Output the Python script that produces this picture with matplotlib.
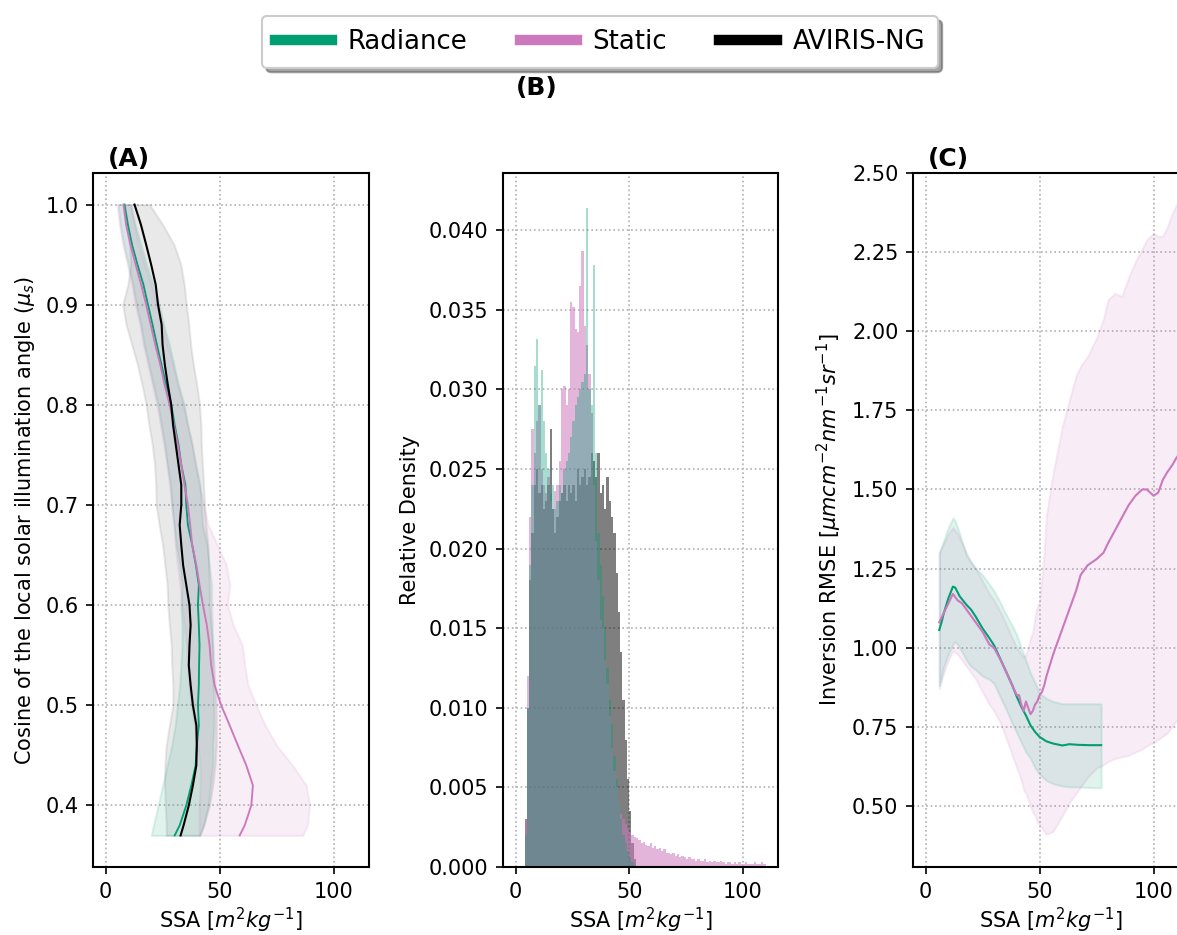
import matplotlib
matplotlib.use("Agg")
import matplotlib.pyplot as plt
from matplotlib.lines import Line2D
import numpy as np

RADIANCE_COLOR = "#029e73"
STATIC_COLOR = "#cc78bc"
AVIRIS_COLOR = "black"
SSA_LABEL = r"SSA [$m^2kg^{-1}$]"

# (A) SSA statistics binned by cosine of the local solar illumination angle
MU_S = [1.00, 0.98, 0.96, 0.94, 0.92, 0.90, 0.88, 0.86, 0.84, 0.82,
        0.80, 0.78, 0.76, 0.74, 0.72, 0.70, 0.68, 0.66, 0.64, 0.62,
        0.60, 0.58, 0.56, 0.54, 0.52, 0.50, 0.48, 0.46, 0.44, 0.42,
        0.40, 0.38, 0.37]
AVIRIS_MEAN = [12.7, 15.5, 17.8, 20.0, 22.0, 23.0, 24.6, 25.0, 26.0, 27.3,
               28.8, 29.6, 30.8, 32.0, 33.2, 33.2, 32.5, 33.2, 34.0, 35.4,
               36.8, 37.3, 36.8, 36.5, 37.3, 38.3, 39.8, 40.0, 39.8, 38.3,
               36.5, 34.2, 32.9]
AVIRIS_LO = [7.6, 9.0, 10.5, 11.0, 9.8, 7.5, 9.0, 11.5, 14.0, 16.0,
             17.8, 19.0, 20.5, 21.5, 22.0, 22.2, 23.5, 25.0, 26.0, 27.0,
             27.3, 28.0, 28.8, 29.0, 29.5, 29.5, 28.0, 26.6, 26.0, 25.9,
             26.2, 26.6, 26.6]
AVIRIS_HI = [19.3, 25.0, 30.0, 33.0, 34.5, 35.4, 36.5, 37.3, 38.5, 40.0,
             41.2, 41.8, 42.0, 42.5, 43.0, 43.4, 44.0, 44.9, 45.2, 45.5,
             45.6, 46.2, 47.0, 47.5, 48.0, 48.5, 48.5, 48.5, 48.0, 47.0,
             45.6, 43.0, 41.2]
RAD_MEAN_A = [8.3, 9.8, 11.6, 14.0, 16.6, 18.6, 20.6, 22.5, 24.5, 26.6,
              28.8, 30.3, 32.0, 33.2, 35.0, 35.4, 36.1, 38.0, 39.6, 40.9,
              40.5, 40.9, 41.2, 41.0, 40.9, 40.5, 40.9, 40.0, 39.5, 37.6,
              35.4, 32.5, 30.3]
RAD_LO_A = [5.5, 6.5, 8.0, 10.0, 12.0, 13.5, 15.5, 17.0, 19.0, 21.0,
            23.0, 24.5, 26.0, 27.0, 28.5, 29.0, 30.0, 31.0, 32.5, 33.5,
            33.0, 33.5, 33.5, 33.0, 32.5, 31.5, 30.5, 29.0, 27.0, 25.0,
            23.0, 21.0, 20.0]
RAD_HI_A = [11.0, 13.0, 15.5, 18.0, 21.0, 23.5, 25.5, 28.0, 30.0, 32.0,
            34.5, 36.0, 38.0, 39.5, 41.5, 42.0, 42.5, 44.5, 45.5, 46.5,
            46.5, 46.8, 47.0, 47.0, 47.2, 47.5, 47.5, 47.0, 47.0, 46.0,
            45.0, 43.0, 41.5]
STA_MEAN_A = [7.9, 9.0, 10.9, 13.2, 15.6, 17.8, 19.8, 21.8, 24.0, 25.9,
              28.1, 30.0, 31.7, 33.2, 34.6, 36.1, 37.1, 38.0, 39.8, 41.2,
              42.7, 44.4, 45.6, 46.3, 47.8, 50.7, 54.4, 58.0, 61.7, 64.6,
              63.9, 61.0, 58.8]
STA_LO_A = [5.0, 6.0, 7.5, 9.5, 11.5, 13.0, 15.0, 16.5, 18.5, 20.5,
            22.5, 24.0, 25.5, 27.0, 28.0, 29.0, 30.0, 30.5, 31.5, 32.5,
            33.5, 34.5, 35.5, 36.0, 36.5, 37.5, 39.0, 40.5, 41.5, 41.5,
            41.0, 41.0, 41.0]
STA_HI_A = [11.0, 12.5, 14.5, 17.0, 20.0, 22.5, 25.0, 27.0, 29.5, 31.5,
            34.0, 36.0, 38.0, 39.5, 41.0, 43.0, 45.0, 49.0, 53.0, 54.5,
            53.5, 56.0, 60.0, 61.0, 62.5, 66.0, 70.0, 75.0, 82.0, 88.0,
            89.5, 88.5, 86.5]

# (B) relative density of SSA, 1 m2/kg bins starting at 3
HIST_START = 3
RAD_DENSITY = [0.000, 0.002, 0.010, 0.019, 0.024, 0.0315, 0.0332, 0.029, 0.0312, 0.028,
               0.026, 0.025, 0.0235, 0.024, 0.0225, 0.023, 0.024, 0.0235, 0.025, 0.0255,
               0.026, 0.027, 0.028, 0.029, 0.0295, 0.030, 0.0305, 0.031, 0.0414, 0.030,
               0.029, 0.0378, 0.026, 0.021, 0.019, 0.017, 0.015, 0.0125, 0.0105, 0.009,
               0.007, 0.0055, 0.004, 0.003, 0.002, 0.0015, 0.001, 0.0006, 0.0003, 0.0001]
AVIRIS_DENSITY = [0.000, 0.003, 0.010, 0.018, 0.021, 0.024, 0.025, 0.0235, 0.024, 0.0225,
                  0.023, 0.024, 0.0275, 0.0225, 0.021, 0.022, 0.023, 0.0235, 0.024, 0.023,
                  0.024, 0.0235, 0.024, 0.023, 0.025, 0.024, 0.0245, 0.025, 0.024, 0.0245,
                  0.026, 0.0255, 0.0245, 0.026, 0.0235, 0.024, 0.0225, 0.0245, 0.023, 0.022,
                  0.021, 0.0185, 0.016, 0.0135, 0.0105, 0.008, 0.0055, 0.0035, 0.0015, 0.0005]
STA_DENSITY = [0.000, 0.003, 0.012, 0.022, 0.0275, 0.026, 0.028, 0.029, 0.025, 0.024,
               0.0235, 0.0245, 0.023, 0.0225, 0.0236, 0.024, 0.0255, 0.030, 0.0302, 0.029,
               0.030, 0.0355, 0.0352, 0.0338, 0.0336, 0.0365, 0.0387, 0.034, 0.0328, 0.031,
               0.0285, 0.024, 0.0205, 0.018, 0.0155, 0.015, 0.013, 0.0115, 0.0095, 0.0075,
               0.006, 0.005, 0.004, 0.0033, 0.003, 0.0027, 0.0024, 0.0022, 0.002, 0.0019,
               0.0018, 0.0017, 0.0015, 0.0016, 0.0014, 0.0013, 0.0015, 0.0012, 0.0013, 0.0011,
               0.0012, 0.0010, 0.0011, 0.0009, 0.0009, 0.0008, 0.0009, 0.0007, 0.0008, 0.0006,
               0.0007, 0.0006, 0.0005, 0.0006, 0.0005, 0.0005, 0.0004, 0.0005, 0.0004, 0.0004,
               0.0005, 0.0003, 0.0004, 0.0003, 0.0004, 0.0003, 0.0003, 0.0004, 0.0003, 0.0002,
               0.0003, 0.0003, 0.0002, 0.0003, 0.0002, 0.0003, 0.0002, 0.0002, 0.0003, 0.0002,
               0.0002, 0.0002, 0.0003, 0.0002, 0.0002, 0.0003, 0.0002]

# (C) inversion RMSE as a function of SSA
RAD_SSA_C = [6, 7, 8, 10, 12, 13, 15, 18, 20, 22, 25, 28, 30, 33, 35, 38, 40, 42, 44,
             46, 48, 50, 53, 56, 60, 63, 67, 72, 77]
RAD_RMSE = [1.056, 1.08, 1.109, 1.156, 1.193, 1.19, 1.162, 1.135, 1.12, 1.098, 1.061,
            1.03, 1.008, 0.961, 0.929, 0.882, 0.845, 0.813, 0.786, 0.755, 0.734, 0.718,
            0.704, 0.697, 0.691, 0.695, 0.693, 0.692, 0.692]
RAD_RMSE_HI = [1.30, 1.32, 1.34, 1.38, 1.41, 1.40, 1.36, 1.29, 1.27, 1.25, 1.23, 1.20,
               1.18, 1.14, 1.11, 1.07, 1.04, 1.00, 0.96, 0.92, 0.89, 0.855, 0.84, 0.83,
               0.823, 0.823, 0.823, 0.823, 0.823]
RAD_RMSE_LO = [0.88, 0.91, 0.94, 0.98, 1.01, 1.02, 1.00, 0.96, 0.94, 0.93, 0.91, 0.90,
               0.887, 0.84, 0.81, 0.76, 0.73, 0.70, 0.67, 0.65, 0.62, 0.60, 0.58, 0.57,
               0.563, 0.56, 0.56, 0.558, 0.557]
STA_SSA_C = [6, 8, 10, 12, 14, 16, 18, 20, 22, 25, 28, 30, 33, 35, 38, 40, 41, 42, 43,
             44, 45, 46, 47, 48, 49, 50, 51, 52, 53, 56, 60, 63, 66, 68, 71, 75, 78, 80,
             83, 86, 89, 92, 95, 97, 100, 102, 104, 106, 108, 110, 112]
STA_RMSE = [1.08, 1.11, 1.14, 1.17, 1.15, 1.14, 1.12, 1.10, 1.08, 1.05,
            1.01, 1.00, 0.96, 0.93, 0.88, 0.85, 0.85, 0.82, 0.80, 0.83,
            0.81, 0.79, 0.80, 0.82, 0.83, 0.85, 0.86, 0.88, 0.91, 0.98,
            1.06, 1.12, 1.18, 1.23, 1.26, 1.28, 1.30, 1.33, 1.37, 1.41,
            1.45, 1.48, 1.50, 1.50, 1.48, 1.49, 1.53, 1.555, 1.575, 1.60, 1.62]
STA_RMSE_HI = [1.30, 1.33, 1.36, 1.38, 1.36, 1.33, 1.30, 1.27, 1.25, 1.21,
               1.17, 1.15, 1.11, 1.08, 1.03, 1.00, 0.99, 0.98, 0.97, 0.98,
               1.00, 1.03, 1.05, 1.10, 1.13, 1.15, 1.22, 1.30, 1.42, 1.555,
               1.70, 1.78, 1.86, 1.89, 1.92, 1.98, 2.04, 2.10, 2.12, 2.11,
               2.17, 2.22, 2.26, 2.29, 2.31, 2.30, 2.30, 2.33, 2.37, 2.40, 2.42]
STA_RMSE_LO = [0.87, 0.92, 0.96, 0.99, 0.98, 0.96, 0.94, 0.92, 0.90, 0.86,
               0.82, 0.80, 0.76, 0.72, 0.66, 0.62, 0.60, 0.58, 0.55, 0.54,
               0.52, 0.50, 0.48, 0.47, 0.45, 0.44, 0.43, 0.42, 0.41, 0.42,
               0.47, 0.51, 0.54, 0.56, 0.59, 0.62, 0.63, 0.64, 0.65, 0.655,
               0.66, 0.67, 0.68, 0.69, 0.70, 0.71, 0.72, 0.73, 0.75, 0.77, 0.78]


def style_axis(ax):
    ax.grid(True, linestyle=":", color="#b0b0b0", linewidth=0.8)
    ax.set_axisbelow(True)
    for spine in ax.spines.values():
        spine.set_linewidth(1.0)
    ax.set_xlim(-5.5, 115.5)
    ax.set_xticks([0, 50, 100])
    ax.set_xlabel(SSA_LABEL, labelpad=2)


def band_x(ax, y, lo, hi, color, alpha):
    ax.fill_betweenx(y, lo, hi, facecolor=color, alpha=alpha,
                     edgecolor=color, linewidth=1.0)


def band_y(ax, x, lo, hi, color, alpha):
    ax.fill_between(x, lo, hi, facecolor=color, alpha=alpha,
                    edgecolor=color, linewidth=1.0)


W, H, DPI = 1177, 935, 150
fig = plt.figure(figsize=(W / DPI, H / DPI), dpi=DPI)

ax_a = fig.add_axes([93 / W, 1 - 867 / H, 276 / W, 694 / H])
ax_b = fig.add_axes([503 / W, 1 - 867 / H, 275 / W, 694 / H])
ax_c = fig.add_axes([913 / W, 1 - 867 / H, 276 / W, 694 / H])

# (A)
band_x(ax_a, MU_S, AVIRIS_LO, AVIRIS_HI, "gray", 0.17)
band_x(ax_a, MU_S, RAD_LO_A, RAD_HI_A, RADIANCE_COLOR, 0.12)
band_x(ax_a, MU_S, STA_LO_A, STA_HI_A, STATIC_COLOR, 0.12)
ax_a.plot(RAD_MEAN_A, MU_S, color=RADIANCE_COLOR, lw=0.9)
ax_a.plot(STA_MEAN_A, MU_S, color=STATIC_COLOR, lw=0.9)
ax_a.plot(AVIRIS_MEAN, MU_S, color=AVIRIS_COLOR, lw=1.0)
style_axis(ax_a)
ax_a.set_ylim(0.3385, 1.0315)
ax_a.set_yticks(np.arange(0.4, 1.01, 0.1))
ax_a.set_ylabel(r"Cosine of the local solar illumination angle ($\mu_s$)")

# (B)
for density, color, alpha in [(AVIRIS_DENSITY, "black", 0.5),
                              (STA_DENSITY, STATIC_COLOR, 0.55),
                              (RAD_DENSITY, RADIANCE_COLOR, 0.35)]:
    centers = HIST_START + 0.5 + np.arange(len(density))
    ax_b.bar(centers, density, width=1.0, color=color, alpha=alpha, linewidth=0)
style_axis(ax_b)
ax_b.set_ylim(0, 0.0436)
ax_b.set_yticks(np.arange(0, 0.0401, 0.005))
ax_b.yaxis.set_major_formatter(matplotlib.ticker.FormatStrFormatter("%.3f"))
ax_b.set_ylabel("Relative Density")

# (C)
band_y(ax_c, STA_SSA_C, STA_RMSE_LO, STA_RMSE_HI, STATIC_COLOR, 0.13)
band_y(ax_c, RAD_SSA_C, RAD_RMSE_LO, RAD_RMSE_HI, RADIANCE_COLOR, 0.12)
ax_c.plot(RAD_SSA_C, RAD_RMSE, color=RADIANCE_COLOR, lw=1.0)
ax_c.plot(STA_SSA_C, STA_RMSE, color=STATIC_COLOR, lw=1.0)
style_axis(ax_c)
ax_c.set_ylim(0.307, 2.5)
ax_c.set_yticks(np.arange(0.5, 2.51, 0.25))
ax_c.yaxis.set_major_formatter(matplotlib.ticker.FormatStrFormatter("%.2f"))
ax_c.set_ylabel(r"Inversion RMSE [$\mu m cm^{-2} nm^{-1} sr^{-1}$]")

for ax, tag in [(ax_a, "(A)"), (ax_c, "(C)")]:
    ax.text(0.054, 1.003, tag, transform=ax.transAxes, fontsize=12,
            fontweight="bold", ha="left", va="bottom")
fig.text(516 / W, 1 - 88 / H, "(B)", fontsize=12, fontweight="bold",
         ha="left", va="center")

handles = [Line2D([], [], color=RADIANCE_COLOR, lw=5),
           Line2D([], [], color=STATIC_COLOR, lw=5),
           Line2D([], [], color=AVIRIS_COLOR, lw=5)]
fig.legend(handles, ["Radiance", "Static", "AVIRIS-NG"], loc="upper center",
           bbox_to_anchor=(600 / W, 1 - 3 / H), ncol=3, fontsize=12.5,
           fancybox=True, shadow=True, handlelength=2.2, handletextpad=0.6,
           columnspacing=2.0, borderpad=0.5)

fig.savefig("out.png", dpi=DPI)
